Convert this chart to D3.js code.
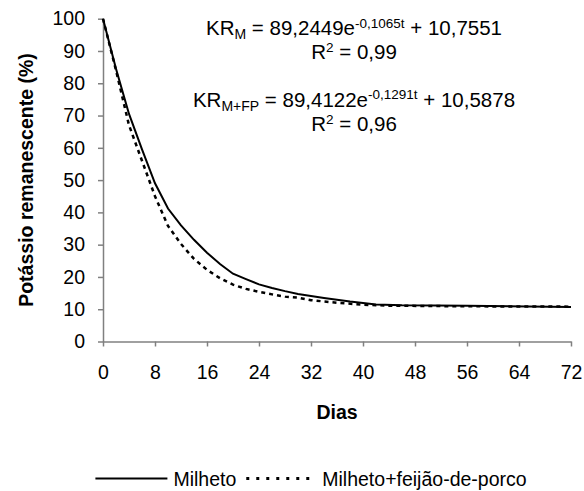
<!DOCTYPE html>
<html><head><meta charset="utf-8">
<script src="https://cdn.jsdelivr.net/npm/d3@7"></script>
<style>body{margin:0;background:#fff}svg{display:block}text{font-family:"Liberation Sans",Arial,sans-serif;white-space:pre}</style>
</head><body>
<script>
const xTicks = [0, 8, 16, 24, 32, 40, 48, 56, 64, 72];
const yTicks = [0, 10, 20, 30, 40, 50, 60, 70, 80, 90, 100];
const daysM = [0, 2, 4, 6, 8, 10, 12, 14, 16, 18, 20, 22, 24, 26, 28, 30, 34, 38, 42, 46, 56, 72];
const valsM = [100, 84.5, 70.5, 59.5, 49, 41.2, 36, 31.5, 27.5, 24, 21, 19.3, 17.7, 16.6, 15.6, 14.7, 13.5, 12.4, 11.5, 11.2, 11.1, 10.7];
const daysFP = [0, 2, 4, 6, 8, 10, 12, 14, 16, 18, 20, 22, 24, 26, 28, 30, 32, 36, 40, 44, 56, 72];
const valsFP = [100, 84, 67, 56, 45, 35.8, 30.2, 25.6, 22.2, 19.6, 17.6, 16.3, 15.4, 14.6, 13.9, 13.6, 12.8, 12.0, 11.4, 11.1, 10.9, 10.8];
const seriesNames = ["Milheto", "Milheto+feijão-de-porco"];

const W = 584, H = 491;
const svg = d3.select("body").append("svg").attr("width", W).attr("height", H);
const x = d3.scaleLinear().domain([0, 72]).range([103, 571]);
const y = d3.scaleLinear().domain([0, 100]).range([341.5, 18.7]);

const gx = svg.append("g").attr("transform", "translate(0,341.5)")
  .call(d3.axisBottom(x).tickValues(xTicks).tickSizeInner(5).tickSizeOuter(0).tickPadding(18.5));
const gy = svg.append("g").attr("transform", "translate(103,0)")
  .call(d3.axisLeft(y).tickValues(yTicks).tickSizeInner(5).tickSizeOuter(0).tickPadding(13));
[gx, gy].forEach(g => {
  g.select(".domain").attr("stroke", "#808080").attr("stroke-width", 1.5);
  g.selectAll(".tick line").attr("stroke", "#808080").attr("stroke-width", 1.5);
  g.selectAll(".tick text").attr("fill", "#000").style("font-size", "19.5px").style("font-family", '"Liberation Sans",Arial,sans-serif');
});

const line = d3.line().x(d => x(d[0])).y(d => y(d[1])).curve(d3.curveLinear);
svg.append("path").datum(daysM.map((d, i) => [d, valsM[i]]))
  .attr("d", line).attr("fill", "none").attr("stroke", "#000").attr("stroke-width", 2);
svg.append("path").datum(daysFP.map((d, i) => [d, valsFP[i]]))
  .attr("d", line).attr("fill", "none").attr("stroke", "#000").attr("stroke-width", 2.5)
  .attr("stroke-dasharray", "4,4");

// axis titles
svg.append("text").attr("x", 337).attr("y", 419).attr("text-anchor", "middle")
  .style("font-size", "19.5px").style("font-weight", "bold").text("Dias");
svg.append("text").attr("transform", "translate(33,180) rotate(-90)").attr("text-anchor", "middle")
  .style("font-size", "19.5px").style("font-weight", "bold").text("Potássio remanescente (%)");

// equations: each piece its own text, laid out by measured width
function eq(cx, yb, parts) {
  const g = svg.append("g");
  const nodes = parts.map(p => {
    const shift = p.t === "sub" ? 4 : p.t === "sup" ? -7.5 : 0;
    return g.append("text").attr("y", yb + shift)
      .style("font-size", p.t === "sub" ? "14px" : p.t === "sup" ? "13.5px" : "20.5px").text(p.s);
  });
  const widths = nodes.map(n => n.node().getComputedTextLength());
  const total = d3.sum(widths);
  let xx = cx - total / 2;
  nodes.forEach((n, i) => { n.attr("x", xx); xx += widths[i]; });
}
eq(354, 35, [{s: "KR"}, {s: "M", t: "sub"}, {s: " = 89,2449e"}, {s: "-0,1065t", t: "sup"}, {s: " + 10,7551"}]);
eq(354, 59.3, [{s: "R"}, {s: "2", t: "sup"}, {s: " = 0,99"}]);
eq(354, 106.7, [{s: "KR"}, {s: "M+FP", t: "sub"}, {s: " = 89,4122e"}, {s: "-0,1291t", t: "sup"}, {s: " + 10,5878"}]);
eq(354, 131, [{s: "R"}, {s: "2", t: "sup"}, {s: " = 0,96"}]);

// legend, centred as a whole
const lg = svg.append("g");
const lineLen = 72, ly = 478.5, lb = 485.5;
const t1 = lg.append("text").attr("y", lb).style("font-size", "19.5px").text(seriesNames[0]);
const t2 = lg.append("text").attr("y", lb).style("font-size", "19.5px").text(seriesNames[1]);
const w1 = t1.node().getComputedTextLength(), w2 = t2.node().getComputedTextLength();
const totalW = lineLen + 6 + w1 + 10 + lineLen - 5 + 9 + w2;
let lx = 311 - totalW / 2;
lg.append("line").attr("x1", lx).attr("x2", lx + lineLen).attr("y1", ly).attr("y2", ly).attr("stroke", "#000").attr("stroke-width", 2);
lx += lineLen + 6; t1.attr("x", lx); lx += w1 + 10;
lg.append("line").attr("x1", lx).attr("x2", lx + lineLen - 5).attr("y1", ly).attr("y2", ly).attr("stroke", "#000").attr("stroke-width", 3).attr("stroke-dasharray", "3,7");
lx += lineLen - 5 + 9; t2.attr("x", lx);
</script>
</body></html>
